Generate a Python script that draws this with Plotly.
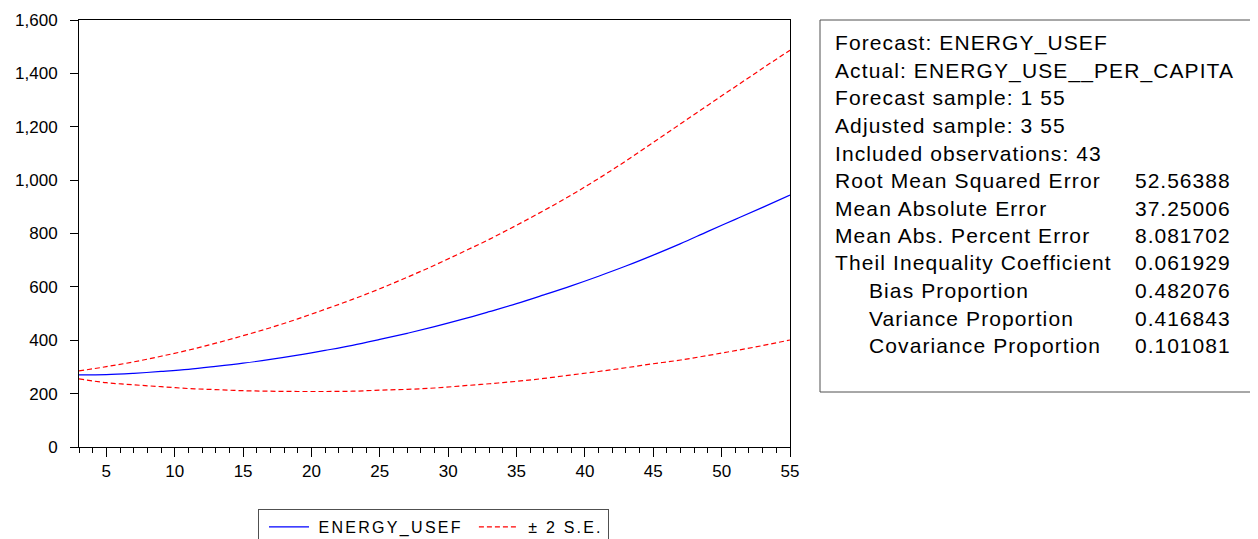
import plotly.graph_objects as go

# ---- data ----
obs = [3, 5, 7, 9, 11, 13, 15, 17, 19, 21, 23, 25, 27, 29, 31, 33, 35, 37, 39, 41, 43, 45, 47, 49, 51, 53, 55]
forecast = [270, 271, 276, 283, 291, 302, 314, 328, 344, 362, 381, 403, 426, 451, 478, 507, 537, 570, 604, 640, 678, 719, 762, 808, 853, 898, 944]
upper_se = [285, 301, 319, 340, 363, 389, 417, 447, 480, 516, 553, 593, 636, 681, 729, 778, 831, 886, 944, 1006, 1072, 1141, 1211, 1281, 1350, 1419, 1487]
lower_se = [255, 241, 233, 226, 219, 215, 211, 209, 208, 208, 209, 213, 216, 221, 229, 237, 246, 257, 270, 283, 297, 312, 326, 343, 361, 380, 401]

stat_labels = [
    "Forecast: ENERGY_USEF",
    "Actual: ENERGY_USE__PER_CAPITA",
    "Forecast sample: 1 55",
    "Adjusted sample: 3 55",
    "Included observations: 43",
    "Root Mean Squared Error",
    "Mean Absolute Error",
    "Mean Abs. Percent Error",
    "Theil Inequality Coefficient",
    "Bias Proportion",
    "Variance Proportion",
    "Covariance Proportion",
]
stat_values = ["", "", "", "", "", "52.56388", "37.25006", "8.081702", "0.061929",
               "0.482076", "0.416843", "0.101081"]
stat_indent = [0, 0, 0, 0, 0, 0, 0, 0, 0, 1, 1, 1]

# ---- layout geometry (reference pixels; page body adds an 8px offset) ----
OFF = 8
W, H = 1258 - OFF, 539 - OFF
L, R, T, B = 79, 790, 20, 447
FONT = "Liberation Sans, Arial, sans-serif"


def px_x(p):
    return (p - L) / (R - L)


def px_y(p):
    return (B - p) / (B - T)


def spaced(s, sp):
    return '<span style="letter-spacing:%spx">%s</span>' % (sp, s)


fig = go.Figure()
fig.add_trace(go.Scatter(x=obs, y=forecast, mode="lines",
                         name="&nbsp;" + spaced("ENERGY_USEF", 2.3),
                         line=dict(color="#0000ff", width=1.2, shape="spline"),
                         legendgroup="f"))
fig.add_trace(go.Scatter(x=obs, y=upper_se, mode="lines",
                         name="&nbsp;" + spaced("± 2 S.E.", 2.2),
                         line=dict(color="#ff0000", width=1.2, dash="5px,3px", shape="spline"),
                         legendgroup="se"))
fig.add_trace(go.Scatter(x=obs, y=lower_se, mode="lines", name="± 2 S.E.",
                         line=dict(color="#ff0000", width=1.2, dash="5px,3px", shape="spline"),
                         legendgroup="se", showlegend=False))

shapes = [dict(type="rect", xref="paper", yref="paper",
               x0=px_x(820), x1=px_x(1257), y0=px_y(392), y1=px_y(20),
               line=dict(color="#505050", width=1), fillcolor="rgba(0,0,0,0)", layer="above")]

annotations = []
line_y0, line_dy = 43, 27.5
for i, (lab, val, ind) in enumerate(zip(stat_labels, stat_values, stat_indent)):
    yy = px_y(line_y0 + i * line_dy)
    annotations.append(dict(xref="paper", yref="paper", x=px_x(833 + 34 * ind), y=yy,
                            text=spaced(lab, 1.1), showarrow=False, xanchor="left", yanchor="middle",
                            font=dict(family=FONT, size=21, color="#000000")))
    if val:
        annotations.append(dict(xref="paper", yref="paper", x=px_x(1133), y=yy,
                                text=spaced(val, 1.0), showarrow=False, xanchor="left", yanchor="middle",
                                font=dict(family=FONT, size=21, color="#000000")))

fig.update_layout(
    width=W, height=H,
    margin=dict(l=L - OFF, r=W - (R - OFF), t=T - OFF, b=H - (B - OFF), pad=0, autoexpand=False),
    paper_bgcolor="white", plot_bgcolor="white",
    font=dict(family=FONT, size=16, color="#000000"),
    showlegend=True,
    legend=dict(orientation="h", xref="paper", yref="paper",
                x=px_x(258), y=px_y(509), xanchor="left", yanchor="top",
                bgcolor="white", bordercolor="#505050", borderwidth=1,
                font=dict(family=FONT, size=16, color="#000000"),
                itemwidth=40, tracegroupgap=0, indentation=6),
    shapes=shapes,
    annotations=annotations,
    xaxis=dict(range=[3, 55], tick0=0, dtick=5, ticks="outside", ticklen=9,
               tickcolor="#000000", tickwidth=1,
               showline=True, linecolor="#000000", linewidth=1, mirror=True,
               showgrid=False, zeroline=False,
               tickfont=dict(family=FONT, size=17),
               minor=dict(dtick=1, tick0=0, ticks="outside", ticklen=5,
                          tickcolor="#000000", tickwidth=1, showgrid=False)),
    yaxis=dict(range=[0, 1600], tick0=0, dtick=200, ticks="outside", ticklen=8,
               tickcolor="#000000", tickwidth=1, tickformat=",d",
               ticklabelstandoff=9,
               showline=True, linecolor="#000000", linewidth=1, mirror=True,
               showgrid=False, zeroline=False,
               tickfont=dict(family=FONT, size=17)),
)

fig.write_html("out.html")
